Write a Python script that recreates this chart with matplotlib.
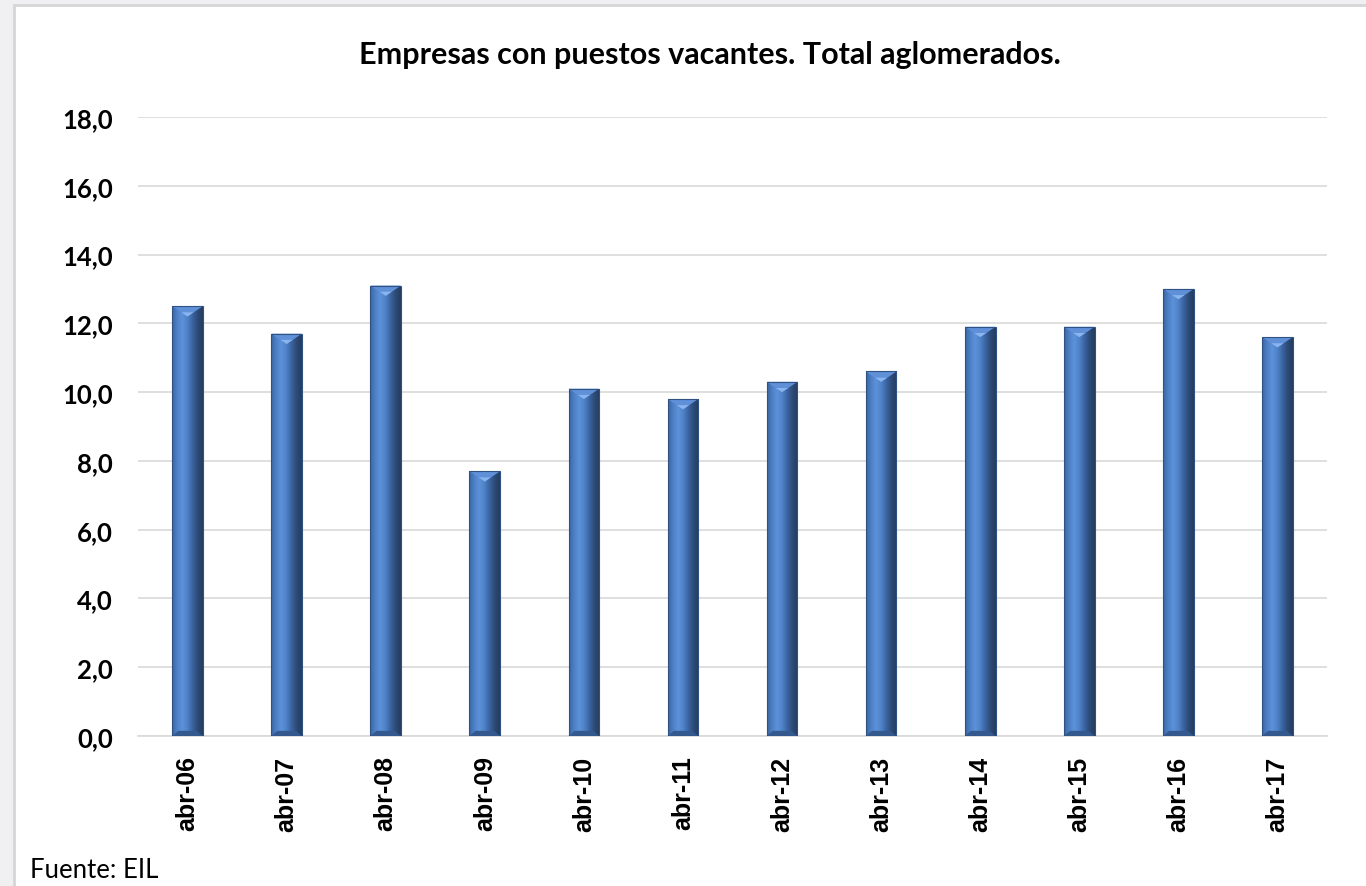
import numpy as np
import matplotlib.pyplot as plt
from matplotlib.patches import Rectangle, Polygon
from matplotlib.colors import LinearSegmentedColormap

# Data
periodos = ["abr-06", "abr-07", "abr-08", "abr-09", "abr-10", "abr-11",
            "abr-12", "abr-13", "abr-14", "abr-15", "abr-16", "abr-17"]
valores = [12.5, 11.7, 13.1, 7.7, 10.1, 9.8, 10.3, 10.6, 11.9, 11.9, 13.0, 11.6]
yticks = np.arange(0, 18.1, 2.0)

W, H = 1366, 887
fig = plt.figure(figsize=(W / 100, H / 100), dpi=100)
fig.patch.set_facecolor("#f0f0f2")

# white chart panel with thin grey border
panel = Rectangle((14 / W, -0.01), 1.0, 1 - 6 / H + 0.01, transform=fig.transFigure,
                  facecolor="white", edgecolor="#d6d6d6", linewidth=2, zorder=-1)
fig.patches.append(panel)

ax = fig.add_axes([138 / W, 1 - 737 / H, (1327 - 138) / W, (737 - 118) / H])
ax.set_facecolor("none")

x = np.arange(len(periodos))
bars = ax.bar(x, valores, width=0.31, color="#4a7cc0", zorder=3, linewidth=0)

# cylinder-ish shading: horizontal gradient clipped to each bar
cmap = LinearSegmentedColormap.from_list(
    "bev", ["#3a65a0", "#4d80c6", "#5d92da", "#4e82c8", "#3b62a0", "#2c4a74", "#243d60"])
grad = np.linspace(0, 1, 256).reshape(1, -1)
bevel = 0.30
for b in bars:
    x0, w, h = b.get_x(), b.get_width(), b.get_height()
    im = ax.imshow(grad, cmap=cmap, aspect="auto", extent=(x0, x0 + w, 0, h),
                   zorder=4, interpolation="bicubic")
    im.set_clip_path(b)
    xc = x0 + w / 2
    # top bevel
    ax.add_patch(Polygon([(x0, h), (x0 + w, h), (xc, h - bevel)],
                         closed=True, facecolor="#5f90d8", edgecolor="none", zorder=5))
    ax.add_patch(Polygon([(xc - w * 0.2, h - bevel * 0.6), (xc + w * 0.2, h - bevel * 0.6),
                          (xc, h - bevel)],
                         closed=True, facecolor="#8ab4ee", edgecolor="none", zorder=6))
    # bottom bevel
    ax.add_patch(Polygon([(x0, 0), (x0 + w, 0), (x0 + w * 0.8, bevel * 0.5), (x0 + w * 0.2, bevel * 0.5)],
                         closed=True, facecolor="#34598f", edgecolor="none", zorder=5))
    ax.add_patch(Rectangle((x0, 0), w, h, facecolor="none", edgecolor="#2f5282",
                           linewidth=0.8, zorder=7))

ax.set_xlim(-0.5, len(periodos) - 0.5)
ax.set_ylim(0, 18)
ax.set_yticks(yticks)
ax.set_yticklabels([f"{v:.1f}".replace(".", ",") for v in yticks],
                   fontfamily="Lato", fontweight="bold", fontsize=18.5)
ax.set_xticks(x)
ax.set_xticklabels(periodos, rotation=90, fontfamily="Liberation Sans",
                   fontweight="bold", fontsize=18)
ax.tick_params(axis="both", length=0)
ax.tick_params(axis="y", pad=18)
ax.tick_params(axis="x", pad=14)
ax.grid(axis="y", color="#d9d9d9", linewidth=1.2, zorder=0)
for s in ["top", "right", "left"]:
    ax.spines[s].set_visible(False)
ax.spines["bottom"].set_color("#d9d9d9")
ax.spines["bottom"].set_linewidth(1.2)

fig.text(710 / W, 1 - 55 / H, "Empresas con puestos vacantes. Total aglomerados.",
         ha="center", va="center", fontfamily="Lato", fontweight="bold", fontsize=22)
fig.text(30 / W, 1 - 871 / H, "Fuente: EIL", ha="left", va="center",
         fontfamily="Lato", fontsize=18.5)

fig.savefig("out.png", dpi=100)
